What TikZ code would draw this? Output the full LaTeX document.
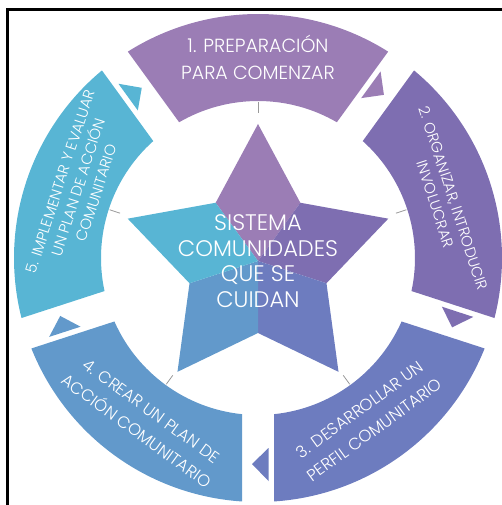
\documentclass[tikz,border=0pt]{standalone}
\usepackage{fontspec}
\IfFontExistsTF{Poppins Light}{\setmainfont{Poppins Light}}{\setmainfont{Poppins}}
\usepackage{tikz}
\usetikzlibrary{positioning}

\definecolor{stepone}{HTML}{9B7DB5}
\definecolor{steptwo}{HTML}{7E6EB1}
\definecolor{stepthree}{HTML}{6D7CBF}
\definecolor{stepfour}{HTML}{6299CB}
\definecolor{stepfive}{HTML}{58B5D4}

\begin{document}
\begin{tikzpicture}[
        x=1pt, y=1pt,
        every node/.style={text=white, align=center, inner sep=0pt},
        ringtext/.style={font=\fontsize{15}{19}\selectfont},
        widetext/.style={font=\fontsize{16.5}{25}\selectfont},
        toptext/.style={font=\fontsize{19}{27}\selectfont},
        bigtext/.style={font=\fontsize{22.5}{25.7}\selectfont},
        midmark/.style={gray!80, line width=0.8pt},
        frameline/.style={black, line width=2.4pt}
    ]
    \useasboundingbox (-258,-247) rectangle (244,258);

    % Frame -----------------------------------------------
    \draw[frameline] (-250.5,-247) -- (-250.5,248.5) -- (244,248.5);

    % Ring segments, marks and arrow heads ------------------
    \foreach \k/\col in {0/stepone,1/steptwo,2/stepthree,3/stepfour,4/stepfive}{
      \begin{scope}[rotate=-72*\k]
        \fill[\col] (57.76:244) arc[start angle=57.76, end angle=122.24, radius=244]
          -- (120.15:157) arc[start angle=120.15, end angle=59.85, radius=157] -- cycle;
        \draw[midmark] (90:145) -- (90:156);
        \begin{scope}[rotate=54]
          \fill[\col] (190,10.5) -- (223,10.5) -- (206,-6) -- cycle;
        \end{scope}
      \end{scope}
    }

    % Star --------------------------------------------------
    \begin{scope}[shift={(0,-3)}]
      \foreach \k/\col in {0/stepone,1/steptwo,2/stepthree,3/stepfour,4/stepfive}{
        \fill[\col, rotate=-72*\k] (0,0) -- (126:72) -- (90:137) -- (54:72) -- cycle;
      }
    \end{scope}

    % Nodes -------------------------------------------------
    \node[bigtext] (center) at (0,-3) {SISTEMA\\COMUNIDADES\\QUE SE\\CUIDAN};
    \node[toptext] (prep) at (90:201) {1. PREPARACIÓN\\PARA COMENZAR};
    \node[ringtext, rotate=-72] (organize) at (17:195) {2. ORGANIZAR, INTRODUCIR\\INVOLUCRAR};
    \node[widetext, rotate=36] (profile) at (-56:195) {3. DESARROLLAR UN\\PERFIL COMUNITARIO};
    \node[widetext, rotate=-36] (plan) at (-125:199) {4. CREAR UN PLAN DE\\ACCIÓN COMUNITARIO};
    \node[ringtext, rotate=72] (evaluate) at (158.5:193) {5. IMPLEMENTAR Y EVALUAR\\UN PLAN DE ACCIÓN\\COMUNITARIO};
\end{tikzpicture}
\end{document}
